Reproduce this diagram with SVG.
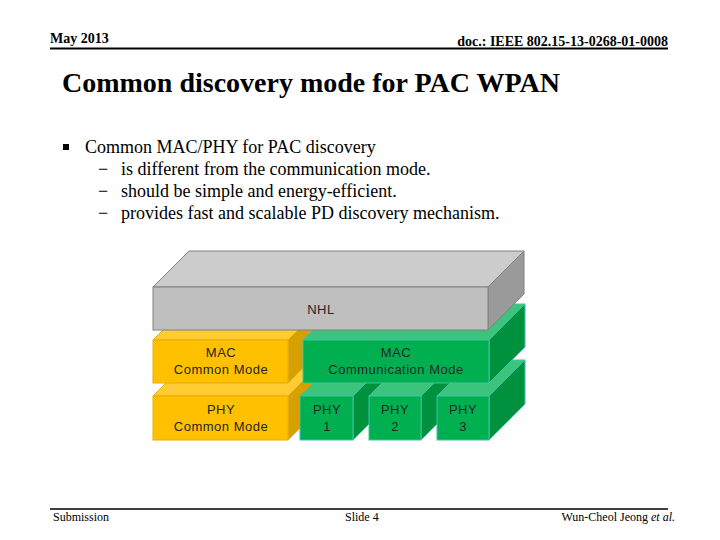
<svg xmlns="http://www.w3.org/2000/svg" width="720" height="540" viewBox="0 0 720 540">
<style>
.serif{font-family:"Liberation Serif","Times New Roman",serif;fill:#000}
.lbl{font-family:"Liberation Sans",Arial,sans-serif;font-size:13px;letter-spacing:0.5px;fill:#262626;text-anchor:middle}
.gt{fill:#CCCCCC;stroke:#808080;stroke-width:1}
.gf{fill:#BFBFBF;stroke:#808080;stroke-width:1}
.gs{fill:#9A9A9A;stroke:#808080;stroke-width:1}
.ot{fill:#FFCC33;stroke:#E8AE00;stroke-width:1}
.of{fill:#FFC000;stroke:#E8AE00;stroke-width:1}
.os{fill:#D6A100;stroke:#E8AE00;stroke-width:1}
.nt{fill:#3CC47C;stroke:#3FC4A4;stroke-width:1}
.nf{fill:#00B050;stroke:#3FC4A4;stroke-width:1}
.ns{fill:#00913F;stroke:#3FC4A4;stroke-width:1}
</style>
<rect width="720" height="540" fill="#FFFFFF"/>
<!-- header -->
<text class="serif" x="50" y="43" font-size="14" font-weight="bold">May 2013</text>
<text class="serif" x="668" y="46" font-size="14" font-weight="bold" text-anchor="end">doc.: IEEE 802.15-13-0268-01-0008</text>
<line x1="50" y1="48.5" x2="668" y2="48.5" stroke="#000" stroke-width="2"/>
<text class="serif" x="62" y="92" font-size="28" font-weight="bold">Common discovery mode for PAC WPAN</text>
<!-- bullets -->
<rect x="63" y="144" width="6" height="6" fill="#000"/>
<text class="serif" x="85" y="153" font-size="18">Common MAC/PHY for PAC discovery</text>
<text class="serif" x="98" y="175" font-size="18">−</text>
<text class="serif" x="121" y="175" font-size="18">is different from the communication mode.</text>
<text class="serif" x="98" y="197" font-size="18">−</text>
<text class="serif" x="121" y="197" font-size="18">should be simple and energy-efficient.</text>
<text class="serif" x="98" y="219" font-size="18">−</text>
<text class="serif" x="121" y="219" font-size="18">provides fast and scalable PD discovery mechanism.</text>
<!-- blocks -->
<g id="phy-common">
<polygon class="ot" points="153,396 189,360 324,360 288,396"/>
<polygon class="os" points="288,396 324,360 324,404 288,440"/>
<rect class="of" x="153" y="396" width="135" height="44"/>
<text class="lbl" x="221" y="414">PHY</text>
<text class="lbl" x="221" y="431">Common Mode</text>
</g>
<g id="mac-common">
<polygon class="ot" points="153,340 189,304 324,304 288,340"/>
<polygon class="os" points="288,340 324,304 324,347 288,383"/>
<rect class="of" x="153" y="340" width="135" height="43"/>
<text class="lbl" x="221" y="357">MAC</text>
<text class="lbl" x="221" y="374">Common Mode</text>
</g>
<g id="phy1">
<polygon class="nt" points="300,396 336,360 389,360 353,396"/>
<polygon class="ns" points="353,396 389,360 389,404 353,440"/>
<rect class="nf" x="300" y="396" width="53" height="44"/>
<text class="lbl" x="327" y="414">PHY</text>
<text class="lbl" x="327" y="431">1</text>
</g>
<g id="phy2">
<polygon class="nt" points="369,396 405,360 457,360 421,396"/>
<polygon class="ns" points="421,396 457,360 457,404 421,440"/>
<rect class="nf" x="369" y="396" width="52" height="44"/>
<text class="lbl" x="395" y="414">PHY</text>
<text class="lbl" x="395" y="431">2</text>
</g>
<g id="phy3">
<polygon class="nt" points="437,396 473,360 525,360 489,396"/>
<polygon class="ns" points="489,396 525,360 525,404 489,440"/>
<rect class="nf" x="437" y="396" width="52" height="44"/>
<text class="lbl" x="463" y="414">PHY</text>
<text class="lbl" x="463" y="431">3</text>
</g>
<g id="mac-communication">
<polygon class="nt" points="303,340 339,304 525,304 489,340"/>
<polygon class="ns" points="489,340 525,304 525,347 489,383"/>
<rect class="nf" x="303" y="340" width="186" height="43"/>
<text class="lbl" x="396" y="357">MAC</text>
<text class="lbl" x="396" y="374">Communication Mode</text>
</g>
<g id="nhl">
<polygon class="gt" points="153,287 189,251 524,251 488,287"/>
<polygon class="gs" points="488,287 524,251 524,294 488,330"/>
<rect class="gf" x="153" y="287" width="335" height="43"/>
<text class="lbl" x="321" y="314">NHL</text>
</g>
<g id="connectors"/>
<!-- footer -->
<line x1="50" y1="509" x2="668" y2="509" stroke="#000" stroke-width="1.5"/>
<text class="serif" x="53" y="521" font-size="12">Submission</text>
<text class="serif" x="345" y="521" font-size="12">Slide 4</text>
<text class="serif" x="675" y="521" font-size="12" text-anchor="end">Wun-Cheol Jeong <tspan font-style="italic">et al.</tspan></text>
</svg>
